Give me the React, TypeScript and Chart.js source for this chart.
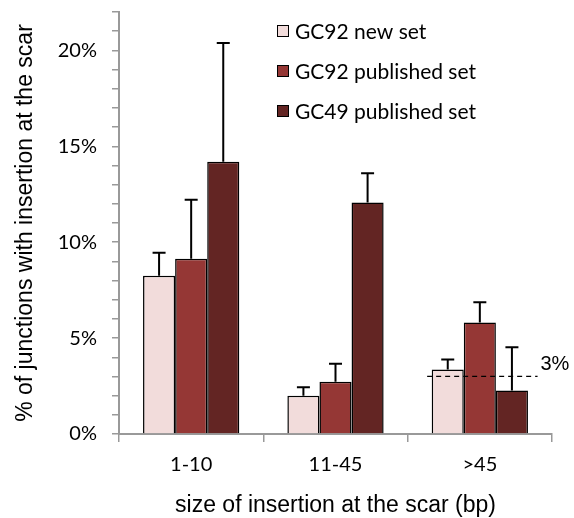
import React, { useEffect, useRef } from "react";
import { Chart, registerables } from "chart.js";

Chart.register(...registerables);

const categories = ["1-10", "11-45", ">45"];
const seriesLabels = ["GC92 new set", "GC92 published set", "GC49 published set"];
const gc92New = [8.25, 1.99, 3.36];
const gc92Published = [9.14, 2.73, 5.81];
const gc49Published = [14.19, 12.07, 2.27];
const gc92NewErr = [1.2, 0.45, 0.52];
const gc92PublishedErr = [3.07, 0.93, 1.06];
const gc49PublishedErr = [6.2, 1.53, 2.25];
const thresholdValue = 3;
const thresholdCategory = 2;
const thresholdLabel = "3%";
const yMax = 22;

const colors = ["#F2DCDB", "#953735", "#632523"];
const errors = [gc92NewErr, gc92PublishedErr, gc49PublishedErr];

const CAL = "Lato, 'Noto Sans', sans-serif";
const ARIAL = "'Liberation Sans', Arial, sans-serif";

const errorBarPlugin = {
  id: "errorBars",
  afterDatasetsDraw(chart: any) {
    const ctx = chart.ctx;
    const y = chart.scales.y;
    ctx.save();
    ctx.strokeStyle = "#000";
    ctx.lineWidth = 2;
    chart.data.datasets.forEach((ds: any, di: number) => {
      const meta = chart.getDatasetMeta(di);
      meta.data.forEach((bar: any, i: number) => {
        const top = y.getPixelForValue(ds.data[i] + errors[di][i]);
        const base = bar.y;
        ctx.beginPath();
        ctx.moveTo(bar.x, base);
        ctx.lineTo(bar.x, top);
        ctx.moveTo(bar.x - 6.5, top);
        ctx.lineTo(bar.x + 6.5, top);
        ctx.stroke();
      });
    });
    // threshold dashed line
    const x = chart.scales.x;
    const cw = x.getPixelForValue(1) - x.getPixelForValue(0);
    const cx = x.getPixelForValue(thresholdCategory);
    const ty = y.getPixelForValue(thresholdValue);
    ctx.setLineDash([5, 4]);
    ctx.lineWidth = 1.2;
    ctx.beginPath();
    ctx.moveTo(cx - cw * 0.365, ty);
    ctx.lineTo(cx + cw * 0.4, ty);
    ctx.stroke();
    ctx.setLineDash([]);
    ctx.fillStyle = "#000";
    ctx.font = `20px ${ARIAL}`;
    ctx.textAlign = "left";
    ctx.textBaseline = "middle";
    ctx.fillText(thresholdLabel, cx + cw * 0.42, ty - 12);
    ctx.restore();
  },
};

const legendPlugin = {
  id: "boxLegend",
  afterDraw(chart: any) {
    const ctx = chart.ctx;
    ctx.save();
    const x0 = 277;
    const rows = [31, 71, 111];
    chart.data.datasets.forEach((ds: any, i: number) => {
      const cy = rows[i];
      ctx.fillStyle = ds.backgroundColor;
      ctx.fillRect(x0, cy - 6, 12, 12);
      ctx.strokeStyle = "#000";
      ctx.lineWidth = 1;
      ctx.strokeRect(x0 + 0.5, cy - 5.5, 11, 11);
      ctx.fillStyle = "#000";
      ctx.font = `21px ${CAL}`;
      ctx.textAlign = "left";
      ctx.textBaseline = "middle";
      ctx.fillText(ds.label, 295, cy + 1);
    });
    ctx.restore();
  },
};

export default function App() {
  const ref = useRef<HTMLCanvasElement>(null);
  useEffect(() => {
    if (!ref.current) return;
    const dataSeries = [gc92New, gc92Published, gc49Published];
    const chart = new Chart(ref.current, {
      type: "bar",
      data: {
        labels: categories,
        datasets: dataSeries.map((d, i) => ({
          label: seriesLabels[i],
          data: d,
          backgroundColor: colors[i],
          borderColor: "#000",
          borderWidth: 1.5,
          categoryPercentage: 0.667,
          barPercentage: 1,
        })),
      },
      options: {
        animation: false,
        responsive: false,
        devicePixelRatio: 1,
        layout: { padding: { top: 12, right: 22, left: 0, bottom: 0 } },
        plugins: { legend: { display: false }, tooltip: { enabled: false } },
        scales: {
          x: {
            afterFit: (s: any) => { s.height = 84; s.paddingLeft = 0; s.paddingRight = 0; },
            grid: { drawOnChartArea: false, tickLength: 8, color: "#999", lineWidth: 1.5, offset: true },
            border: { color: "#999", width: 2 },
            ticks: { color: "#000", font: { family: CAL, size: 20 }, padding: 11 },
            title: {
              display: true,
              text: "size of insertion at the scar (bp)",
              color: "#000",
              font: { family: ARIAL, size: 23 },
              padding: { top: 0, bottom: -1 },
            },
          },
          y: {
            min: 0,
            max: yMax,
            afterFit: (s: any) => { s.width = 119; s.paddingTop = 0; s.paddingBottom = 0; },
            grid: { drawOnChartArea: false, tickLength: 7, color: "#999", lineWidth: 1.5 },
            border: { color: "#999", width: 2 },
            ticks: {
              stepSize: 1,
              autoSkip: false,
              color: "#000",
              font: { family: CAL, size: 20 },
              padding: 15,
              callback: (v: any) => (Number(v) % 5 === 0 ? `${v}%` : ""),
            },
            title: {
              display: true,
              text: "% of junctions with insertion at the scar",
              color: "#000",
              font: { family: ARIAL, size: 23 },
              padding: { top: 12, bottom: 0 },
            },
          },
        },
      },
      plugins: [errorBarPlugin, legendPlugin],
    });
    return () => chart.destroy();
  }, []);
  return (
    <div style={{ position: "fixed", left: 0, top: 0, width: 574, height: 518, background: "#fff" }}>
      <canvas ref={ref} width={574} height={518} style={{ width: 574, height: 518 }} />
    </div>
  );
}
